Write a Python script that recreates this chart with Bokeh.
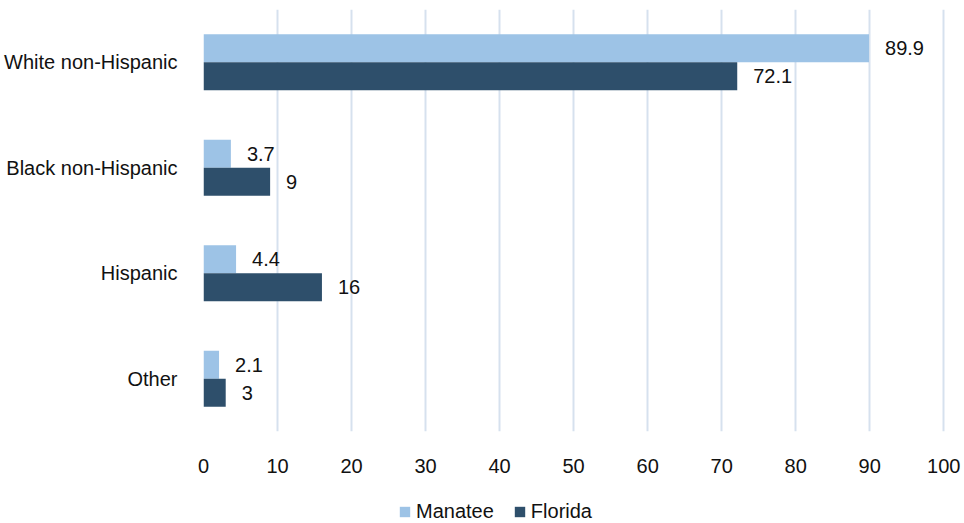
from bokeh.plotting import figure
from bokeh.layouts import column
from bokeh.models import ColumnDataSource, FactorRange, Range1d, FixedTicker, Legend, LegendItem
from bokeh.transform import dodge
from bokeh.core.properties import value
from bokeh.embed import file_html
from bokeh.resources import INLINE

categories = ["White non-Hispanic", "Black non-Hispanic", "Hispanic", "Other"]
series_names = ["Manatee", "Florida"]
manatee = [89.9, 3.7, 4.4, 2.1]
florida = [72.1, 9.0, 16.0, 3.0]
x_ticks = [0, 10, 20, 30, 40, 50, 60, 70, 80, 90, 100]

FONT = "Liberation Sans"
FS = "20px"
LIGHT = "#9DC3E6"
DARK = "#2E4F6B"

src = ColumnDataSource(dict(
    cat=categories,
    manatee=manatee,
    florida=florida,
    mlab=[f"{v:g}" for v in manatee],
    flab=[f"{v:g}" for v in florida],
))

p = figure(width=964, height=490, output_backend="svg", toolbar_location=None,
           y_range=FactorRange(*reversed(categories), range_padding=0),
           x_range=Range1d(0, 102.8),
           min_border_left=203, min_border_right=0, min_border_top=9, min_border_bottom=59)
p.outline_line_color = None

off = 0.133
hb = 0.265
p.hbar(y=dodge("cat", off, range=p.y_range), right="manatee", left=0, height=hb,
       source=src, fill_color=LIGHT, line_color=None)
p.hbar(y=dodge("cat", -off, range=p.y_range), right="florida", left=0, height=hb,
       source=src, fill_color=DARK, line_color=None)

p.text(x="manatee", y=dodge("cat", off, range=p.y_range), text="mlab", source=src,
       x_offset=16, text_baseline="middle", text_align="left",
       text_font=value(FONT), text_font_size=FS, text_color="#111111")
p.text(x="florida", y=dodge("cat", -off, range=p.y_range), text="flab", source=src,
       x_offset=16, text_baseline="middle", text_align="left",
       text_font=value(FONT), text_font_size=FS, text_color="#111111")

p.xaxis.ticker = FixedTicker(ticks=x_ticks)
p.xaxis.axis_line_color = None
p.xaxis.major_tick_line_color = None
p.xaxis.minor_tick_line_color = None
p.xaxis.major_label_standoff = 21
p.xaxis.major_label_text_font = FONT
p.xaxis.major_label_text_font_size = FS
p.xaxis.major_label_text_color = "#111111"

p.yaxis.axis_line_color = None
p.yaxis.major_tick_line_color = None
p.yaxis.minor_tick_line_color = None
p.yaxis.major_label_standoff = 20
p.yaxis.major_label_text_font = FONT
p.yaxis.major_label_text_font_size = FS
p.yaxis.major_label_text_color = "#111111"

p.xgrid.grid_line_color = "#D6E1EE"
p.xgrid.grid_line_width = 2
p.ygrid.grid_line_color = None

# legend strip below the chart (proxy glyphs kept outside the visible range)
lf = figure(width=964, height=33, output_backend="svg", toolbar_location=None,
            x_axis_type=None, y_axis_type=None, x_range=Range1d(0, 1), y_range=Range1d(0, 1),
            min_border_left=203, min_border_right=0, min_border_top=0, min_border_bottom=0)
lf.outline_line_color = None
lf.xgrid.grid_line_color = None
lf.ygrid.grid_line_color = None
proxy = ColumnDataSource(dict(y=[-10], right=[1]))
g1 = lf.hbar(y="y", right="right", left=0, height=0.1, source=proxy, fill_color=LIGHT, line_color=None)
g2 = lf.hbar(y="y", right="right", left=0, height=0.1, source=proxy, fill_color=DARK, line_color=None)

legend = Legend(items=[LegendItem(label=series_names[0], renderers=[g1]),
                       LegendItem(label=series_names[1], renderers=[g2])],
                orientation="horizontal", location=(195, 0),
                glyph_width=13, glyph_height=13, label_height=13,
                label_standoff=5, spacing=19, padding=0, margin=0,
                border_line_color=None, background_fill_alpha=0,
                label_text_font=FONT, label_text_font_size=FS,
                label_text_color="#111111")
lf.add_layout(legend, "center")

layout = column(p, lf, spacing=0)
open("out.html", "w").write(file_html(layout, INLINE))
